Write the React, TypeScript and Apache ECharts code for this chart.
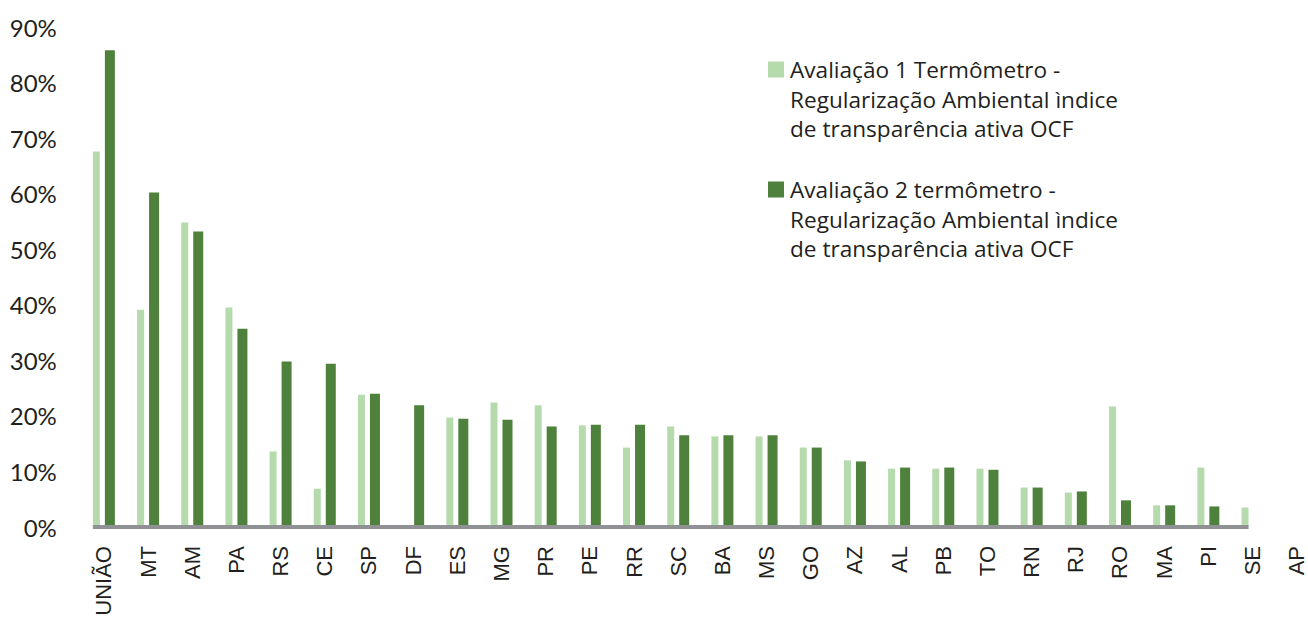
import { useEffect, useRef } from "react";
import * as echarts from "echarts";

// Unidades avaliadas (eixo X)
const categories = [
  "UNIÃO", "MT", "AM", "PA", "RS", "CE", "SP", "DF", "ES", "MG", "PR", "PE", "RR", "SC",
  "BA", "MS", "GO", "AZ", "AL", "PB", "TO", "RN", "RJ", "RO", "MA", "PI", "SE", "AP",
];

// Índice de transparência ativa (%) — primeira avaliação
const avaliacao1 = [
  67.6, 39.1, 54.8, 39.5, 13.6, 6.9, 23.8, 0, 19.7, 22.4, 21.9, 18.3, 14.3, 18.1,
  16.3, 16.3, 14.3, 12.0, 10.5, 10.5, 10.5, 7.1, 6.2, 21.7, 3.9, 10.7, 3.5, 0,
];

// Índice de transparência ativa (%) — segunda avaliação
const avaliacao2 = [
  85.8, 60.2, 53.2, 35.7, 29.8, 29.4, 24.0, 21.9, 19.5, 19.3, 18.1, 18.4, 18.4, 16.5,
  16.5, 16.5, 14.3, 11.8, 10.7, 10.7, 10.3, 7.1, 6.4, 4.8, 3.9, 3.7, 0, 0,
];

const legendLabels = [
  "Avaliação 1 Termômetro -\nRegularização Ambiental ìndice\nde transparência ativa OCF",
  "Avaliação 2 termômetro -\nRegularização Ambiental ìndice\nde transparência ativa OCF",
];

// Última unidade sob a linha de base
const baselineEnd = "SE";

const COLOR_1 = "#b5dbad";
const COLOR_2 = "#4e813b";
const TEXT = "#231f20";
const AXIS = "#909195";

const BAR_W_1 = 7;
const BAR_W_2 = 10;
const BAR_GAP = 5 / 7;

export default function App() {
  const ref = useRef<HTMLDivElement>(null);

  useEffect(() => {
    if (!ref.current) return;
    const chart = echarts.init(ref.current, null, { renderer: "svg" });

    chart.setOption({
      animation: false,
      backgroundColor: "#ffffff",
      grid: { left: 81.8, top: 27, width: 1237, height: 500, outerBoundsMode: "none" },
      xAxis: {
        type: "category",
        data: categories,
        axisLine: { show: false },
        axisTick: { show: false },
        axisLabel: {
          rotate: 90,
          margin: 19,
          interval: 0,
          fontSize: 22,
          fontFamily: "Liberation Sans",
          color: TEXT,
        },
      },
      yAxis: {
        type: "value",
        min: 0,
        max: 90,
        interval: 10,
        splitLine: { show: false },
        axisLine: { show: false },
        axisTick: { show: false },
        axisLabel: {
          formatter: "{value}%",
          margin: 25,
          fontSize: 24,
          fontFamily: "Lato",
          color: TEXT,
        },
      },
      series: [
        {
          type: "bar",
          name: legendLabels[0].replace(/\n/g, " "),
          data: avaliacao1,
          barWidth: BAR_W_1,
          barGap: `${BAR_GAP * 100}%`,
          itemStyle: { color: COLOR_1 },
        },
        {
          type: "bar",
          name: legendLabels[1].replace(/\n/g, " "),
          data: avaliacao2,
          barWidth: BAR_W_2,
          barGap: `${BAR_GAP * 100}%`,
          itemStyle: { color: COLOR_2 },
        },
      ],
    });

    // Linha de base: da primeira barra da UNIÃO até a barra clara de SE
    const groupHalf = (BAR_W_1 * (1 + BAR_GAP) + BAR_W_2) / 2;
    const xStart = (chart.convertToPixel({ xAxisIndex: 0 }, categories[0]) as number) - groupHalf;
    const xEnd = (chart.convertToPixel({ xAxisIndex: 0 }, baselineEnd) as number) - groupHalf + BAR_W_1;
    const y0 = chart.convertToPixel({ yAxisIndex: 0 }, 0) as number;

    const legendItem = (i: number, top: number, color: string) => ({
      type: "group",
      children: [
        { type: "rect", shape: { x: 768, y: top, width: 16, height: 16 }, style: { fill: color } },
        {
          type: "text",
          x: 790,
          y: top - 6.5,
          style: {
            text: legendLabels[i],
            font: "22.6px 'Open Sans'",
            fill: TEXT,
            lineHeight: 29.5,
            verticalAlign: "top",
          },
        },
      ],
    });

    chart.setOption({
      graphic: [
        {
          type: "line",
          shape: { x1: xStart, y1: y0, x2: xEnd, y2: y0 },
          style: { stroke: AXIS, lineWidth: 4 },
          z: 10,
        },
        legendItem(0, 61.5, COLOR_1),
        legendItem(1, 181.5, COLOR_2),
      ],
    });

    return () => chart.dispose();
  }, []);

  return (
    <div
      ref={ref}
      style={{ position: "fixed", left: 0, top: 0, width: 1308, height: 617 }}
    />
  );
}
